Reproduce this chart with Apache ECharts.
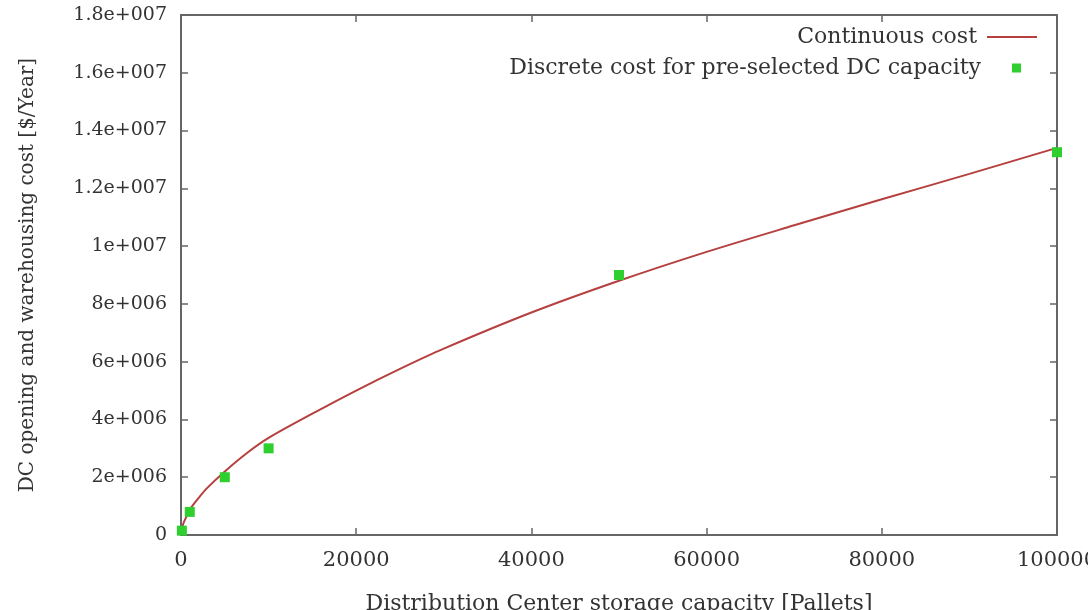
<!DOCTYPE html>
<html>
<head>
<meta charset="utf-8">
<script src="https://cdn.jsdelivr.net/npm/echarts@6/dist/echarts.min.js"></script>
<style>
html,body{margin:0;padding:0;background:#fff;}
#chart{width:1088px;height:610px;}
</style>
</head>
<body>
<div id="chart"></div>
<script>
// Continuous cost curve
var curveX = [0, 250, 500, 1000, 2000, 3000, 5000, 7500, 10000, 15000, 20000, 25000, 30000, 40000, 50000, 60000, 70000, 80000, 90000, 100000];
var curveY = [0, 380000, 560000, 880000, 1280000, 1630000, 2200000, 2830000, 3360000, 4200000, 5000000, 5750000, 6450000, 7700000, 8800000, 9800000, 10720000, 11620000, 12500000, 13400000];
// Discrete cost points
var discreteX = [100, 1000, 5000, 10000, 50000, 100000];
var discreteY = [150000, 800000, 2000000, 3000000, 9000000, 13250000];
// Axis ranges and ticks
var xTicks = [0, 20000, 40000, 60000, 80000, 100000];
var yTicks = [0, 2e6, 4e6, 6e6, 8e6, 1e7, 1.2e7, 1.4e7, 1.6e7, 1.8e7];
var seriesNames = ['Continuous cost', 'Discrete cost for pre-selected DC capacity'];
var xName = 'Distribution Center storage capacity [Pallets]';
var yName = 'DC opening and warehousing cost [$/Year]';

function gnuExp(v) {
  if (v === 0) return '0';
  var s = v.toExponential();
  var m = s.split('e');
  var sign = m[1].charAt(0);
  var e = m[1].slice(1);
  while (e.length < 3) e = '0' + e;
  return m[0] + 'e' + sign + e;
}
function plain(v) { return String(v); }

var FONT = 'DejaVu Serif';
var TXT = '#333';
var AX = '#666';

var curveData = curveX.map(function (x, i) { return [x, curveY[i]]; });
var pointData = discreteX.map(function (x, i) { return [x, discreteY[i]]; });

function xAxisCfg(pos, labels) {
  return {
    type: 'value', position: pos, gridIndex: 0,
    min: xTicks[0], max: xTicks[xTicks.length - 1], interval: xTicks[1] - xTicks[0],
    axisLine: { show: true, onZero: false, lineStyle: { color: AX, width: 2 } },
    axisTick: { show: true, inside: true, length: 7, lineStyle: { color: AX, width: 1.5 } },
    axisLabel: { show: labels, margin: 15, color: TXT, fontFamily: FONT, fontSize: 21, formatter: plain },
    splitLine: { show: false },
    name: labels ? xName : '', nameLocation: 'middle', nameGap: 58,
    nameTextStyle: { color: TXT, fontFamily: FONT, fontSize: 22 }
  };
}
function yAxisCfg(pos, labels) {
  return {
    type: 'value', position: pos, gridIndex: 0,
    min: yTicks[0], max: yTicks[yTicks.length - 1], interval: yTicks[1] - yTicks[0],
    axisLine: { show: true, onZero: false, lineStyle: { color: AX, width: 2 } },
    axisTick: { show: true, inside: true, length: 7, lineStyle: { color: AX, width: 1.5 } },
    axisLabel: { show: labels, margin: 14, color: TXT, fontFamily: FONT, fontSize: 19, formatter: gnuExp },
    splitLine: { show: false },
    name: labels ? yName : '', nameLocation: 'middle', nameGap: 143,
    nameTextStyle: { color: TXT, fontFamily: FONT, fontSize: 20 }
  };
}

var chart = echarts.init(document.getElementById('chart'), null, { renderer: 'canvas' });
chart.setOption({
  backgroundColor: '#fff',
  animation: false,
  grid: { left: 181, right: 31, top: 15, bottom: 75, containLabel: false, outerBoundsMode: 'none' },
  legend: [
    {
      data: [seriesNames[0]], right: 46, top: 21, orient: 'vertical', align: 'right',
      icon: 'rect', itemWidth: 50, itemHeight: 2,
      textStyle: { color: TXT, fontFamily: FONT, fontSize: 22, padding: [0, 5, 0, 0] }
    },
    {
      data: [seriesNames[1]], right: 62, top: 52, orient: 'vertical', align: 'right',
      icon: 'rect', itemWidth: 9, itemHeight: 9,
      textStyle: { color: TXT, fontFamily: FONT, fontSize: 22, padding: [0, 26, 0, 0] }
    }
  ],
  xAxis: [xAxisCfg('bottom', true), xAxisCfg('top', false)],
  yAxis: [yAxisCfg('left', true), yAxisCfg('right', false)],
  series: [
    {
      name: seriesNames[0], type: 'line', data: curveData, smooth: 0.3,
      showSymbol: false, symbol: 'none',
      lineStyle: { color: '#b5403f', width: 2 }, itemStyle: { color: '#b5403f' },
      xAxisIndex: 0, yAxisIndex: 0, z: 2
    },
    {
      name: seriesNames[1], type: 'scatter', data: pointData,
      symbol: 'rect', symbolSize: 10,
      itemStyle: { color: '#2fcf2f', opacity: 1 },
      xAxisIndex: 0, yAxisIndex: 0, z: 3
    },
    { type: 'line', data: [], xAxisIndex: 1, yAxisIndex: 1, silent: true }
  ]
});
</script>
</body>
</html>
